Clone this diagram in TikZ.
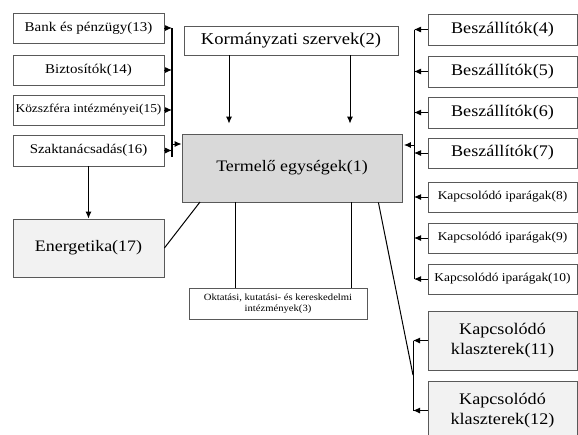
\documentclass[tikz,border=0pt]{standalone}
\usepackage{fontspec}
\setmainfont{Liberation Serif}[FakeStretch=1.12]
\usetikzlibrary{arrows.meta,calc}
\tikzset{
  box/.style={draw=black!65, line width=0.8pt, rectangle, inner sep=0pt, align=center, fill=white},
  lightbox/.style={box, fill=black!5},
  midbox/.style={box, fill=black!15},
  conn/.style={line width=1pt, draw=black},
  arr/.style={conn, -{Latex[length=7pt,width=6pt]}},
}
\begin{document}
\begin{tikzpicture}[x=1pt,y=-1pt]
\useasboundingbox (0,0) rectangle (578,434);
\begin{scope}
\clip (0,0) rectangle (578,434);
% left boxes
\node[box, minimum width=151pt, minimum height=30pt, font=\fontsize{13.4}{15}\selectfont] (n13) at (88.5,28) {Bank és pénzügy(13)};
\node[box, minimum width=151pt, minimum height=30pt, font=\fontsize{13.4}{15}\selectfont] (n14) at (88.5,70) {Biztosítók(14)};
\node[box, minimum width=151pt, minimum height=30pt, font=\fontsize{12}{14}\selectfont] (n15) at (88.5,110) {Közszféra intézményei(15)};
\node[box, minimum width=151pt, minimum height=31pt, font=\fontsize{13.3}{15}\selectfont] (n16) at (88.5,150.5) {Szaktanácsadás(16)};
\node[lightbox, minimum width=151pt, minimum height=58pt, font=\fontsize{16}{18}\selectfont] (n17) at (88.5,248) {Energetika(17)};
% centre
\node[box, minimum width=214pt, minimum height=29pt, font=\fontsize{16.6}{19}\selectfont] (n2) at (291,40.5) {Kormányzati szervek(2)};
\node[midbox, minimum width=220pt, minimum height=68pt, font=\fontsize{16}{18}\selectfont] (n1) at (292,168) {Termelő egységek(1)};
\node[box, minimum width=178pt, minimum height=31pt, font=\fontsize{9.5}{11.5}\selectfont] (n3) at (278,303.5) {Oktatási, kutatási- és kereskedelmi\\intézmények(3)};
% right boxes
\node[box, minimum width=149pt, minimum height=31pt, font=\fontsize{16.2}{18}\selectfont] (n4) at (502.5,29.5) {Beszállítók(4)};
\node[box, minimum width=149pt, minimum height=31pt, font=\fontsize{16.2}{18}\selectfont] (n5) at (502.5,71.5) {Beszállítók(5)};
\node[box, minimum width=149pt, minimum height=31pt, font=\fontsize{16.2}{18}\selectfont] (n6) at (502.5,112.5) {Beszállítók(6)};
\node[box, minimum width=149pt, minimum height=30pt, font=\fontsize{16.2}{18}\selectfont] (n7) at (502.5,153) {Beszállítók(7)};
\node[box, minimum width=149pt, minimum height=30pt, font=\fontsize{12}{14}\selectfont] (n8) at (502.5,197) {Kapcsolódó iparágak(8)};
\node[box, minimum width=149pt, minimum height=30pt, font=\fontsize{12}{14}\selectfont] (n9) at (502.5,238) {Kapcsolódó iparágak(9)};
\node[box, minimum width=149pt, minimum height=30pt, font=\fontsize{12}{14}\selectfont] (n10) at (502.5,279) {Kapcsolódó iparágak(10)};
\node[lightbox, minimum width=149pt, minimum height=59pt, font=\fontsize{16.2}{19.5}\selectfont] (n11) at (502.5,340.5) {Kapcsolódó\\klaszterek(11)};
\node[lightbox, minimum width=149pt, minimum height=59pt, font=\fontsize{16.2}{19.5}\selectfont] (n12) at (502.5,410.5) {Kapcsolódó\\klaszterek(12)};
\end{scope}
% left bus
\coordinate (lbt) at (172,28);
\coordinate (lbb) at (172,157);
\coordinate (lbm) at (172,144);
\draw[line width=2pt] (lbt) -- (lbb);
\foreach \n in {n13,n14,n15,n16}{
  \draw[arr] (\n.east) -- (\n.east -| lbt);
}
\draw[arr] (lbm) -- (lbm -| n1.west);
% government arrows
\coordinate (g1) at ($(n2.south)+(-62,0)$);
\coordinate (g2) at ($(n2.south)+(59,0)$);
\draw[arr, shorten >=10pt] (g1) -- (g1 |- n1.north);
\draw[arr, shorten >=10pt] (g2) -- (g2 |- n1.north);
% right bus
\coordinate (rbt) at (414,29.5);
\coordinate (rbb) at (414,279);
\coordinate (rbm) at (414,145);
\draw[conn] (rbt) -- (rbb);
\foreach \n in {n4,n5,n6,n7,n8,n9,n10}{
  \draw[arr] (\n.west) -- (\n.west -| rbt);
}
\draw[arr, shorten >=1.5pt] (rbm) -- (rbm -| n1.east);
% cluster bus
\coordinate (cbt) at (413,340.5);
\coordinate (cbb) at (413,410.5);
\coordinate (cbd) at (413,375);
\coordinate (d1) at ($(n1.south east)+(-24,0)$);
\draw[conn] (cbt) -- (cbb);
\draw[arr] (n11.west) -- (n11.west -| cbt);
\draw[arr] (n12.west) -- (n12.west -| cbt);
\draw[conn] (d1) -- (cbd);
% energetika
\draw[arr] (n16.south) -- (n17.north);
\coordinate (e1) at (200,202);
\draw[conn] (n17.east) -- (e1);
% oktatasi
\coordinate (o1) at (235,202);
\coordinate (o2) at (351,202);
\draw[conn] (o1) -- (o1 |- n3.north);
\draw[conn] (o2) -- (o2 |- n3.north);
\end{tikzpicture}
\end{document}
